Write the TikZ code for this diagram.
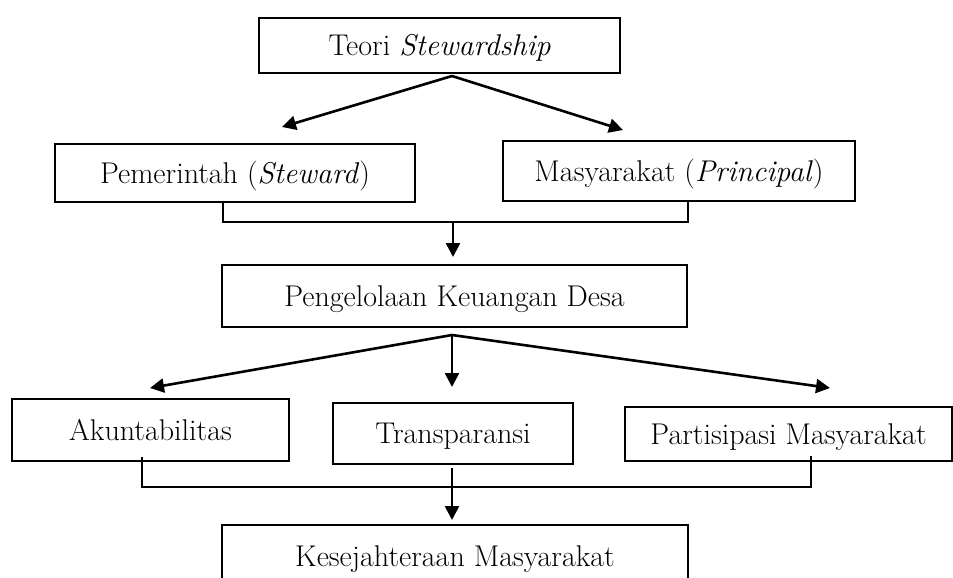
\documentclass[tikz,border=0pt]{standalone}
\usetikzlibrary{arrows.meta}
\begin{document}
\begin{tikzpicture}[x=1pt,y=-1pt,
  box/.style={draw,line width=2.6pt,rectangle,inner sep=0pt,
    text height=28.5pt,text depth=8.1pt,font=\fontsize{30}{36}\selectfont},
  arr/.style={line width=2.6pt,-{Triangle[length=14pt,width=14pt]}},
  brk/.style={line width=1.3pt}]
\useasboundingbox (0,0) rectangle (953,578);
\clip (0,0) rectangle (953,578);
\node[box,minimum width=361pt,minimum height=55pt] (top) at (439.5,45.5) {Teori \textit{Stewardship}};
\node[box,minimum width=360pt,minimum height=58pt] (pem) at (235,173) {Pemerintah (\textit{Steward})};
\node[box,minimum width=352pt,minimum height=60pt] (mas) at (679,171) {Masyarakat (\textit{Principal})};
\node[box,minimum width=465pt,minimum height=62pt] (peng) at (454.5,296) {Pengelolaan Keuangan Desa};
\node[box,minimum width=277pt,minimum height=62pt] (aku) at (150.5,430) {Akuntabilitas};
\node[box,minimum width=240pt,minimum height=61pt] (tra) at (453,433.5) {Transparansi};
\node[box,minimum width=327pt,minimum height=54pt] (par) at (788.5,434) {Partisipasi Masyarakat};
\node[box,minimum width=466pt,minimum height=62pt] (kes) at (455,556) {Kesejahteraan Masyarakat};
% first split
\coordinate (o1) at (452,76);
\coordinate (t1) at (282,127);
\coordinate (t2) at (623,130);
\draw[arr] (o1) -- (t1);
\draw[arr] (o1) -- (t2);
% bracket 1
\coordinate (b1) at (223,222);
\coordinate (b2) at (688,222);
\coordinate (m1) at (453,222);
\coordinate (m1t) at (453,257);
\draw[brk] (pem.south -| b1) -- (b1) -- (b2) -- (mas.south -| b2);
\draw[arr] (m1) -- (m1t);
% second split
\coordinate (o2) at (452,335);
\coordinate (u1) at (150,388);
\coordinate (u2) at (452,387);
\coordinate (u3) at (830,388);
\draw[arr] (o2) -- (u1);
\draw[arr] (o2) -- (u2);
\draw[arr] (o2) -- (u3);
% bracket 2
\coordinate (c1) at (142,487);
\coordinate (c2) at (811,487);
\draw[brk] ([yshift=5pt]aku.south -| c1) -- (c1) -- (c2) -- ([yshift=6pt]par.south -| c2);
\coordinate (m2) at (452,468);
\coordinate (m2t) at (452,520);
\draw[arr] (m2) -- (m2t);
\end{tikzpicture}
\end{document}
